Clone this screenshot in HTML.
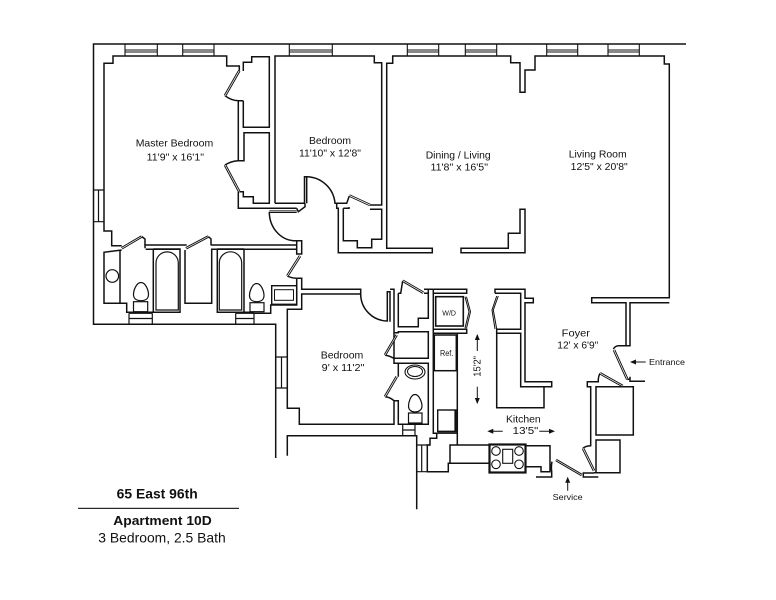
<!DOCTYPE html>
<html><head><meta charset="utf-8"><title>65 East 96th - Apartment 10D</title>
<style>html,body{margin:0;padding:0;background:#fff}svg{display:block}
text{font-family:"Liberation Sans",Arial,sans-serif;fill:#111}
.w{fill:none;stroke:#111;stroke-width:1.5;stroke-linejoin:miter}
.t{fill:none;stroke:#111;stroke-width:1}
.d{fill:none;stroke:#111;stroke-width:2.6}
.dw{fill:none;stroke:#fff;stroke-width:.7}
.a{fill:#111;stroke:none}
</style></head><body>
<svg width="776" height="600" viewBox="0 0 776 600" xmlns="http://www.w3.org/2000/svg">
<rect width="776" height="600" fill="#fff"/>
<g class="w">
<!-- outer -->
<path d="M686 44H93.5V324.3H275.7V458"/>
<!-- windows top -->
<path d="M125 44V56M157.3 44V56M125 50H157.3M125 52H157.3M182.7 44V56M214 44V56M182.7 50H214M182.7 52H214M289.3 44V56M332.3 44V56M289.3 50H332.3M289.3 52H332.3M407.3 44V56M438.7 44V56M407.3 50H438.7M407.3 52H438.7M465.3 44V56M496.7 44V56M465.3 50H496.7M465.3 52H496.7M546.7 44V56M577.7 44V56M546.7 50H577.7M546.7 52H577.7M608 44V56M639.3 44V56M608 50H639.3M608 52H639.3" stroke-width="1.1"/>
<!-- left window -->
<path d="M93.5 190H104M93.5 221.7H104M98.5 190V221.7" stroke-width="1.2"/>
<!-- master bedroom -->
<path d="M121.7 245.7H111.7V231H104V63.3H113V56H226.7V66H239.3V71"/>
<path d="M243.3 71V62.3H251.7V56.7H269.3V127.3H243.3V100.7"/>
<path d="M225 95.7Q231 100.5 238.3 100.7V160.7H244V132.7H269.3V203.3H253.3V196.7H243.3V191.7H239.3"/>
<path d="M243.3 100.7H238.3M238.3 160.7Q231 161 225 165"/>
<path d="M238.3 191.7V208.3H296.7"/>
<!-- bedroom 2 -->
<path d="M275 203.3V56H374.3V62.7H381.7V205H370"/>
<path d="M275 203.3H304.5V176.7H306.7V203.3"/>
<path d="M306.7 176.7A29 29 0 0 1 335 203.3H346.7L349.3 196"/>
<path d="M336.7 204V208.3H338.3V252.7H432.3V248.3H386.7V63.3H392.7V56H510.7V62.7H520V92.3H525V70H535V56H664.3V64H669.3V297.7H591.7V302.7H626V345.7"/>
<path d="M343.3 208.3H349V207M343.3 208.3V240.7H357.3V247.7H371.7V239.3H381.7V209.3H370"/>
<!-- dining bottom right -->
<path d="M461 252.7V248.3H508.3V233.3H520V209.3H525V252.7Z"/>
<path d="M669.3 302.7H630V345.7H618.3Q615 346 613.3 349"/>
<!-- foyer entrance -->
<path d="M627 379.3H630V381.3H645M630 376.7V381.3M622.7 386.7H633.3V435H596V386.7H622.7"/>
<path d="M600 373.3Q598 377 598.3 381.7H587.3V386.7H590.7V445.7Q585 446 583 448.3"/>
<path d="M596 445.7V440H620V472.7H596V445.7"/>
<path d="M594 473H583.3V477H598.3M594 472.7H620"/>
<!-- kitchen upper-right block -->
<path d="M495 293.3V289.3H525V298.3H533.3V302.7H525V381.7H551.7V386.7H520.7V333.3H496.7V407.7H544V386.7"/>
<path d="M495 293.3H520.7V329.3H496.7V333.3"/>
<!-- bedroom 3 -->
<path d="M296.7 278.3H301.7V289.3H360.7V294H301.7V309.3H287.3V408.3H299.3V424.3H394V400.7Q390 397 385 396.7"/>
<path d="M296.7 278.3V305H270.7V313.3H254"/>
<path d="M360.7 294A27 27 0 0 0 387.3 321V291.7H390V321.7M390 289.3H394V332.7M394 289.3V358.3Q390 356 385 355"/>
<path d="M276 357H287.3M276 388H287.3M281.5 357V388" stroke-width="1.2"/>
<!-- closets by kitchen -->
<path d="M398.3 293.3V326.7H418.3V318.3H428.3V293.3H424M398.3 293.3H400.7L402.7 280.7"/>
<path d="M394 332.7H398.3V331.7H428.3V358.3H394M398.3 363.3V376.7M398.3 363.3H428.3V424.3H398.3V400.7H394M394 358.3V363.3H398.3"/>
<path d="M424 289.3H433.3M428.3 293.3V289.3"/>
<!-- kitchen left -->
<path d="M433.3 289.3V433.3H436.7V438.3H430V445H427.3V471.7H448.3V463.3H450V445H489"/>
<path d="M450 463.3H489"/>
<path d="M433.3 289.3H466.7V293.3H433.3M433.3 329.3H466.7V333.3H433.3M457.3 333.3V445"/>
<path d="M436.7 433.3H457.3M402.7 424.3V435.7M415 424.3V435.7M402.7 430H415" stroke-width="1.2"/>
<path d="M287.3 455.7V435.7H416.7V509.3"/>
<path d="M416.7 445H430M416.7 471.7H427.3M421.7 445V471.7" stroke-width="1.2"/>
<!-- kitchen right bottom -->
<path d="M526 445.7H550V471.7H541V466.7H526M552 461.7Q551 466 551.7 471.7V477H536"/>
<!-- bath walls -->
<path d="M145 248.3V245H186.7M145.7 249.3H180M210.7 245H296.7V240.7H301.7V254H296.7V245M211 249.3H296.7"/>
<path d="M121.7 250L104 252.3V303.3H120"/>
<path d="M120 250V303.3H126.7V312.3H153.3V249"/>
<path d="M153.3 249H180V312.3H153.3M217.3 249V312.3H244V249"/>
<path d="M185 250V303.3H211.7V249"/>
<path d="M244 312.3H254M217.3 249H244M141.7 236.5L145 239V245"/>
<path d="M208.3 236.5L211 239V245"/>
<path d="M287.3 276Q291 278 296.7 278.3"/>
<path d="M269.3 211.7A26 29 0 0 0 293.3 240.7H296.7"/>
<path d="M296.7 208.3L298.3 211.7L305 206.7V203.3"/>
<!-- bath windows -->
<path d="M129 313.3V324M152.3 313.3V324M129 318.5H152.3M129 313.3H152.3M235.7 313.3V324M254 313.3V324M235.7 318.5H254M235.7 313.3H254" stroke-width="1.2"/>
</g>
<!-- doors (double lines) -->
<g class="d">
<path d="M239.3 70.7L225 95.7M225 165L239.3 191.7M349.3 195.5L370 205M121.7 248.3L141.7 236.5M186 248.3L208.3 236.5M300 256L287.3 276M269.3 211.7H296.7M402.7 280.7L423.3 292.7M385 396.7L396.7 376.7M385 355L396.7 335M614 350L627.3 379.3M600 373.3L622.7 386M583 448.3L594 470.7M556 460L581.7 475"/>
</g>
<g class="dw">
<path d="M239.3 70.7L225 95.7M225 165L239.3 191.7M349.3 195.5L370 205M121.7 248.3L141.7 236.5M186 248.3L208.3 236.5M300 256L287.3 276M269.3 211.7H296.7M402.7 280.7L423.3 292.7M385 396.7L396.7 376.7M385 355L396.7 335M614 350L627.3 379.3M600 373.3L622.7 386M583 448.3L594 470.7M556 460L581.7 475"/>
</g>
<g class="w">
<!-- tubs -->
<path d="M156 310V263A11 11 0 0 1 178.3 263V310Z" stroke-width="1.2"/>
<path d="M219.3 310V263A11 11 0 0 1 241.7 263V310Z" stroke-width="1.2"/>
<!-- sink circle -->
<circle cx="112.3" cy="276" r="6.3" stroke-width="1.2"/>
<!-- toilets -->
<path d="M141 282.5C136 282.5 133.5 291 133.5 294.5C133.5 299 137 300.7 141 300.7C145 300.7 148.5 299 148.5 294.5C148.5 291 146 282.5 141 282.5Z" stroke-width="1.2"/>
<rect x="133.5" y="301.7" width="14.2" height="10" stroke-width="1.2"/>
<path d="M256.7 283.5C252 283.5 249.5 292 249.5 295.5C249.5 300 253 301.7 256.7 301.7C260.5 301.7 264 300 264 295.5C264 292 261.5 283.5 256.7 283.5Z" stroke-width="1.2"/>
<rect x="250" y="302.7" width="14" height="9" stroke-width="1.2"/>
<!-- bath 3 -->
<ellipse cx="415" cy="372" rx="10" ry="7" stroke-width="1.1"/>
<ellipse cx="415" cy="371.5" rx="7.5" ry="5" stroke-width="1"/>
<path d="M415 394.5C410.5 394.5 408.5 403 408.5 406C408.5 410 411.5 412 415 412C418.5 412 422 410 422 406C422 403 419.5 394.5 415 394.5Z" stroke-width="1.2"/>
<rect x="408.5" y="413" width="13.5" height="10" stroke-width="1.2"/>
<!-- medicine/ vanity -->
<rect x="271.7" y="285.7" width="25" height="18.6" stroke-width="1.4"/>
<rect x="274.5" y="289.7" width="19" height="10.6" stroke-width="1"/>
<!-- W/D -->
<rect x="435.7" y="296.7" width="27.6" height="29.3" stroke-width="1.6"/>
<path d="M465 296.7L469 311.7L465 328.3M466.5 296.7L470.5 311.7L466.5 328.3" stroke-width="1"/>
<path d="M498.3 296L493.3 310L496.7 329M496.7 296L492 310L495 329" stroke-width="1"/>
<!-- Ref -->
<rect x="434.3" y="335" width="22" height="35.7" stroke-width="1.5"/>
<!-- lower appliance -->
<rect x="437.7" y="410" width="18.3" height="21.7" stroke-width="1.4"/>
<path d="M455.5 410V431.7H438" stroke-width="2.2"/>
<!-- stove -->
<rect x="489.5" y="444.5" width="36" height="28" stroke-width="2.2"/>
<circle cx="496" cy="451" r="4.3" stroke-width="1.1"/>
<circle cx="519" cy="451" r="4.3" stroke-width="1.1"/>
<circle cx="496" cy="464.3" r="4.3" stroke-width="1.1"/>
<circle cx="519" cy="464.3" r="4.3" stroke-width="1.1"/>
<rect x="502.7" y="449.3" width="10" height="14" stroke-width="1.1"/>
</g>
<!-- dimension arrows -->
<g class="t">
<path d="M477.3 335V351M477.3 386.7V403M634 362H645.7M492 431.3H502.7M539.3 431.3H550M567.7 480V490.7"/>
</g>
<g class="a">
<path d="M477.3 334L474.8 340H479.8ZM477.3 404L474.8 398H479.8ZM630 362L636 359.5V364.5ZM487.3 431.3L493.3 428.8V433.8ZM555 431.3L549 428.8V433.8ZM567.7 476.7L565.2 482.7H570.2Z"/>
</g>
<!-- labels -->
<g font-size="10.5">
<text x="135.7" y="146.7" textLength="77.5" lengthAdjust="spacingAndGlyphs">Master Bedroom</text>
<text x="146.7" y="160.7" font-size="10.5" textLength="57.3" lengthAdjust="spacingAndGlyphs">11'9" x 16'1"</text>
<text x="309" y="144" textLength="42" lengthAdjust="spacingAndGlyphs">Bedroom</text>
<text x="299" y="156.7" font-size="10.5" textLength="62" lengthAdjust="spacingAndGlyphs">11'10" x 12'8"</text>
<text x="425.7" y="158.3" textLength="65" lengthAdjust="spacingAndGlyphs">Dining / Living</text>
<text x="430.5" y="170.7" font-size="10" textLength="57.5" lengthAdjust="spacingAndGlyphs">11'8" x 16'5"</text>
<text x="568.7" y="157.3" textLength="58" lengthAdjust="spacingAndGlyphs">Living Room</text>
<text x="570.7" y="170" font-size="10" textLength="57" lengthAdjust="spacingAndGlyphs">12'5" x 20'8"</text>
<text x="561.7" y="336.7" textLength="28.3" lengthAdjust="spacingAndGlyphs">Foyer</text>
<text x="557.3" y="348.3" font-size="10" textLength="41" lengthAdjust="spacingAndGlyphs">12' x 6'9"</text>
<text x="506" y="422.3" textLength="34.7" lengthAdjust="spacingAndGlyphs">Kitchen</text>
<text x="512.7" y="434" font-size="10" textLength="25.6" lengthAdjust="spacingAndGlyphs">13'5"</text>
<text x="320.7" y="358.3" textLength="42.6" lengthAdjust="spacingAndGlyphs">Bedroom</text>
<text x="321.7" y="371" font-size="10.5" textLength="42.6" lengthAdjust="spacingAndGlyphs">9' x 11'2"</text>
<text x="649" y="365" font-size="8.5" textLength="36" lengthAdjust="spacingAndGlyphs">Entrance</text>
<text x="552.7" y="500" font-size="8.5" textLength="30" lengthAdjust="spacingAndGlyphs">Service</text>
<text x="440" y="356" font-size="8" textLength="13.3" lengthAdjust="spacingAndGlyphs">Ref.</text>
<text x="442.3" y="315.7" font-size="7.5" textLength="13.7" lengthAdjust="spacingAndGlyphs">W/D</text>
<text transform="translate(480.7 376.7) rotate(-90)" font-size="10" textLength="20.7" lengthAdjust="spacingAndGlyphs">15'2"</text>
</g>
<text x="116.7" y="498.3" font-size="13.5" font-weight="700" textLength="81" lengthAdjust="spacingAndGlyphs">65 East 96th</text>
<rect x="78" y="507.8" width="161" height="1.1" fill="#111"/>
<text x="113.3" y="525" font-size="13" font-weight="700" textLength="98.4" lengthAdjust="spacingAndGlyphs">Apartment 10D</text>
<text x="98.3" y="542.3" font-size="14" textLength="127.4" lengthAdjust="spacingAndGlyphs">3 Bedroom, 2.5 Bath</text>
</svg>
</body></html>
